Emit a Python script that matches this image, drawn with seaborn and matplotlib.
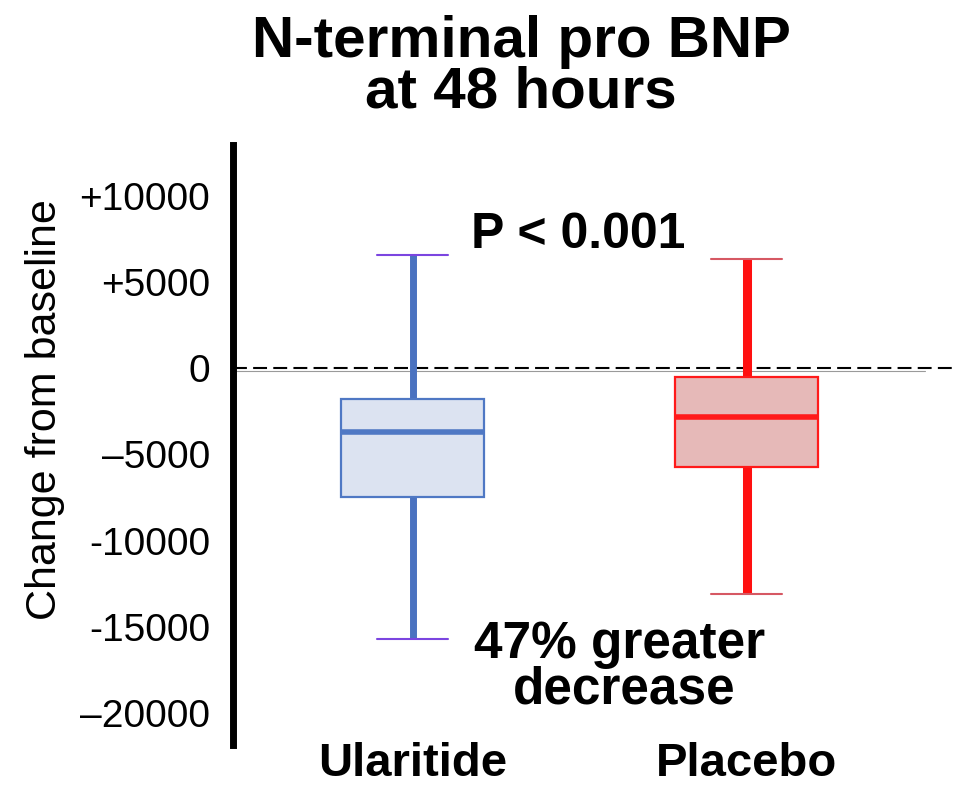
import matplotlib
matplotlib.use("Agg")
import matplotlib.pyplot as plt
import seaborn as sns
import pandas as pd

# ---- data ----
categories = ["Ularitide", "Placebo"]
# five-number summaries: min, q1, median, q3, max
ularitide_vals = [-15700, -7480, -3700, -1800, 6550]
placebo_vals = [-13100, -5720, -2820, -500, 6320]
ytick_values = [10000, 5000, 0, -5000, -10000, -15000, -20000]
ytick_labels = ["+10000", "+5000", "0", "\u20135000", "-10000", "-15000", "\u201320000"]

df = pd.DataFrame({
    "group": ["Ularitide"] * len(ularitide_vals) + ["Placebo"] * len(placebo_vals),
    "value": ularitide_vals + placebo_vals,
})

sns.set_style("white")
plt.rcParams["font.family"] = ["Liberation Sans", "DejaVu Sans"]
plt.rcParams["lines.scale_dashes"] = False
plt.rcParams["text.color"] = "black"
plt.rcParams["xtick.color"] = "black"
plt.rcParams["ytick.color"] = "black"

W, H = 961, 785
fig = plt.figure(figsize=(W / 100, H / 100), dpi=100)
ax = fig.add_axes([232.5 / W, 1 - 745 / H, (955 - 232.5) / W, 600 / H])

styles = {
    "Ularitide": dict(face="#DCE3F1", edge="#4F78C4", whisk="#4A72C0", cap="#7B45E0",
                      whisk_lw=5.0, med_lw=4.0),
    "Placebo": dict(face="#E6B9B8", edge="#FF1A1A", whisk="#FF1010", cap="#D65863",
                    whisk_lw=6.5, med_lw=4.0),
}

for g in categories:
    s = styles[g]
    sns.boxplot(
        data=df[df["group"] == g], x="group", y="value", order=categories,
        whis=(0, 100), width=0.428, saturation=1, ax=ax, showfliers=False,
        boxprops=dict(facecolor=s["face"], edgecolor=s["edge"], linewidth=1.6, zorder=3),
        medianprops=dict(color=s["edge"], linewidth=s["med_lw"], zorder=4),
        whiskerprops=dict(color=s["whisk"], linewidth=s["whisk_lw"], zorder=2),
        capprops=dict(color=s["cap"], linewidth=1.5, zorder=2),
    )

# reference line at zero
ax.axhline(0, color="black", linewidth=1.5, linestyle=(0, (10, 4.5)), zorder=1)
ax.axhline(-170, xmin=0, xmax=(925 - 232.5) / (955 - 232.5), color="#9a9a9a",
           linewidth=0.8, zorder=0.9)

ax.set_xlim(-0.539, 1.624)
ax.set_ylim(-21855, 12928)
ax.set_yticks(ytick_values)
ax.set_yticklabels(ytick_labels, fontsize=28)
ax.set_xticks(range(len(categories)))
ax.set_xticklabels(categories, fontsize=34, fontweight="bold")
ax.tick_params(axis="y", length=0, pad=16)
ax.tick_params(axis="x", length=0, pad=-2)
ax.set_xlabel("")
ax.set_ylabel("")

for side in ["top", "right", "bottom"]:
    ax.spines[side].set_visible(False)
ax.spines["left"].set_linewidth(5)
ax.spines["left"].set_color("black")

# texts
fig.text(45 / W, 1 - 410 / H, "Change from baseline", rotation=90, fontsize=31,
         ha="center", va="center")
fig.text(521 / W, 1 - 57 / H, "N-terminal pro BNP", fontsize=42, fontweight="bold",
         ha="center", va="baseline")
fig.text(521 / W, 1 - 108 / H, "at 48 hours", fontsize=42, fontweight="bold",
         ha="center", va="baseline")
fig.text(578 / W, 1 - 248 / H, "P < 0.001", fontsize=36, fontweight="bold",
         ha="center", va="baseline")
fig.text(620 / W, 1 - 658 / H, "47% greater", fontsize=37, fontweight="bold",
         ha="center", va="baseline")
fig.text(624 / W, 1 - 704 / H, "decrease", fontsize=37, fontweight="bold",
         ha="center", va="baseline")

fig.savefig("out.png", dpi=100)
